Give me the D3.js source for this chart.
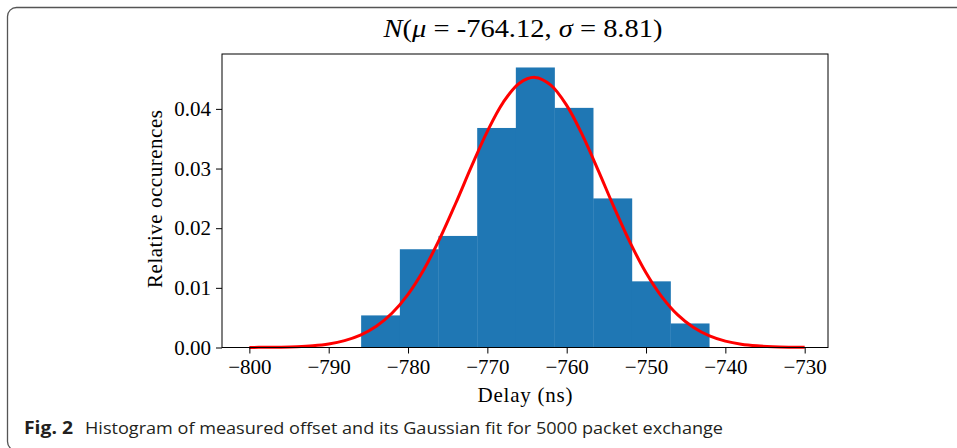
<!DOCTYPE html>
<html>
<head>
<meta charset="utf-8">
<script src="https://cdn.jsdelivr.net/npm/d3@7"></script>
<style>
  body { margin: 0; background: #fff; }
  svg { display: block; }
</style>
</head>
<body>
<svg id="chart" width="957" height="448"></svg>
<script>
// histogram bins (ns) and relative occurrences
const binEdges = [-785.91, -781.03, -776.16, -771.28, -766.41, -761.53, -756.66, -751.78, -746.91, -742.03];
const binValues = [0.00538, 0.01647, 0.0187, 0.0368, 0.04694, 0.04017, 0.02499, 0.01109, 0.00403];

// gaussian fit
const fitX = [-800, -798, -796, -794, -792, -790, -788, -786, -784, -782, -780, -778, -776, -774, -772, -770, -768, -766, -764,
              -762, -760, -758, -756, -754, -752, -750, -748, -746, -744, -742, -740, -738, -736, -734, -732, -730];
const fitY = [0.00001, 0.00003, 0.00006, 0.00014, 0.0003, 0.0006, 0.00115, 0.00207, 0.00355, 0.00578, 0.00892, 0.01309,
              0.01824, 0.02414, 0.03035, 0.03624, 0.0411, 0.04426, 0.04528, 0.04399, 0.04059, 0.03557, 0.02961, 0.02341,
              0.01758, 0.01253, 0.00849, 0.00546, 0.00334, 0.00194, 0.00107, 0.00056, 0.00028, 0.00013, 0.00006, 0.00003];

const xTicks = [-800, -790, -780, -770, -760, -750, -740, -730];
const yTicks = [0, 0.01, 0.02, 0.03, 0.04];

const svg = d3.select('#chart');
const serif = "'Liberation Serif', 'DejaVu Serif', serif";

// rounded figure frame
svg.append("rect")
    .attr("x", 7.5).attr("y", 7.5)
    .attr("width", 1000).attr("height", 443)
    .attr("rx", 9).attr("ry", 9)
    .attr("fill", "none")
    .attr("stroke", "#555")
    .attr("stroke-width", 1.3);

let margin = { top: 54, left: 222, right: 828, bottom: 347.5 };

let x = d3.scaleLinear().domain([-803.45, -727.06]).range([margin.left, margin.right]);
let y = d3.scaleLinear().domain([0, 0.0492]).range([margin.bottom, margin.top]);

let g = svg.append("g");

// bars
let bars = binValues.map((v, i) => ({ x0: binEdges[i], x1: binEdges[i + 1], v: v }));
g.selectAll("rect.bar")
    .data(bars)
    .enter().append("rect")
    .attr("class", "bar")
    .attr("x", d => x(d.x0))
    .attr("width", d => x(d.x1) - x(d.x0) + 0.3)
    .attr("y", d => y(d.v))
    .attr("height", d => y(0) - y(d.v))
    .attr("fill", "#1f77b4");

// fit line
let fit = fitX.map((v, i) => [v, fitY[i]]);
let line = d3.line()
    .x(d => x(d[0]))
    .y(d => y(d[1]))
    .curve(d3.curveCatmullRom);

g.append("path")
    .datum(fit)
    .attr("fill", "none")
    .attr("stroke", "#ff0000")
    .attr("stroke-width", 3)
    .attr("stroke-linejoin", "round")
    .attr("d", line);

// axes frame
g.append("rect")
    .attr("x", margin.left).attr("y", margin.top)
    .attr("width", margin.right - margin.left)
    .attr("height", margin.bottom - margin.top)
    .attr("fill", "none")
    .attr("stroke", "#000")
    .attr("stroke-width", 1);

let fmtX = d => "\u2212" + Math.abs(d);

let ax = g.append("g")
    .attr("transform", "translate(0," + margin.bottom + ")")
    .call(d3.axisBottom(x).tickValues(xTicks).tickFormat(fmtX).tickSize(6).tickPadding(6));
ax.select(".domain").remove();
ax.selectAll("text").attr("font-family", serif).attr("font-size", 21).attr("fill", "#000");

let ay = g.append("g")
    .attr("transform", "translate(" + margin.left + ",0)")
    .call(d3.axisLeft(y).tickValues(yTicks).tickFormat(d3.format(".2f")).tickSize(6).tickPadding(5));
ay.select(".domain").remove();
ay.selectAll("text").attr("font-family", serif).attr("font-size", 21).attr("fill", "#000");

// title
let title = svg.append("text")
    .attr("x", 523).attr("y", 37)
    .attr("text-anchor", "middle")
    .attr("font-family", serif)
    .attr("font-size", 25)
    .attr("textLength", 279)
    .attr("lengthAdjust", "spacingAndGlyphs")
    .attr("fill", "#000");
title.append("tspan").attr("font-style", "italic").text("N");
title.append("tspan").text("(");
title.append("tspan").attr("font-style", "italic").text("\u03bc");
title.append("tspan").text(" = -764.12, ");
title.append("tspan").attr("font-style", "italic").text("\u03c3");
title.append("tspan").text(" = 8.81)");

// axis labels
svg.append("text")
    .attr("x", 525).attr("y", 402)
    .attr("text-anchor", "middle")
    .attr("font-family", serif)
    .attr("font-size", 21)
    .attr("textLength", 95)
    .attr("fill", "#000")
    .text("Delay (ns)");

svg.append("text")
    .attr("transform", "translate(162,199) rotate(-90)")
    .attr("text-anchor", "middle")
    .attr("font-family", serif)
    .attr("font-size", 21)
    .attr("textLength", 178)
    .attr("fill", "#000")
    .text("Relative occurences");

// caption
let cap = svg.append("text")
    .attr("x", 24).attr("y", 434)
    .attr("font-family", "'Open Sans', 'Noto Sans', sans-serif")
    .attr("font-size", 17)
    .attr("fill", "#231f20");
cap.append("tspan")
    .attr("font-weight", "bold")
    .attr("font-size", 18)
    .attr("textLength", 49)
    .attr("lengthAdjust", "spacingAndGlyphs")
    .text("Fig. 2");
cap.append("tspan")
    .attr("x", 85)
    .attr("textLength", 638)
    .attr("lengthAdjust", "spacingAndGlyphs")
    .text("Histogram of measured offset and its Gaussian fit for 5000 packet exchange");
</script>
</body>
</html>
